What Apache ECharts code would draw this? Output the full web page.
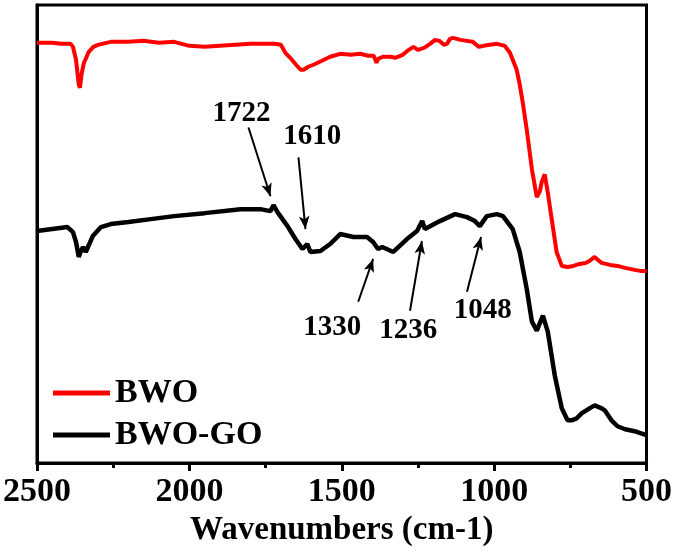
<!DOCTYPE html>
<html>
<head>
<meta charset="utf-8">
<script src="https://cdn.jsdelivr.net/npm/echarts@6/dist/echarts.min.js"></script>
<style>
html,body{margin:0;padding:0;background:#fff;}
#chart{width:675px;height:552px;}
</style>
</head>
<body>
<div id="chart"></div>
<script>
// ---- data (transmittance in arbitrary units) ----
const seriesNames = ['BWO', 'BWO-GO'];
const xTicks = [2500, 2000, 1500, 1000, 500];

const bwoWn = [2500, 2450, 2420, 2390, 2382, 2372, 2363, 2359, 2354, 2346, 2340, 2330, 2315, 2300, 2258, 2200, 2150, 2100, 2050, 2000, 1950, 1900, 1850, 1800, 1760, 1720, 1700, 1685, 1669, 1650, 1635, 1625, 1610, 1593, 1565, 1538, 1505, 1470, 1440, 1413, 1395, 1386, 1380, 1365, 1340, 1325, 1300, 1280, 1265, 1250, 1230, 1210, 1194, 1180, 1165, 1155, 1145, 1135, 1110, 1090, 1070, 1050, 1035, 1014, 990, 965, 948, 926, 916, 906, 893, 876, 860, 850, 844, 834, 824, 811, 795, 778, 759, 740, 720, 700, 687, 670, 660, 647, 620, 595, 570, 539, 520, 500];
const bwoT  = [422, 422, 421, 421, 418, 405, 380, 377, 390, 402, 406, 413, 418, 420, 423, 423, 424, 422, 423, 419, 418, 419, 420, 421, 421, 421, 420, 412, 407, 400, 395, 395, 398, 400, 404, 408, 411, 410, 411, 409, 409, 402, 406, 408, 408, 407, 410, 415, 418, 415, 417, 421, 425, 424, 420, 421, 426, 427, 425, 424, 423, 418, 419, 420, 421, 419, 412, 395, 380, 362, 335, 295, 267, 273, 282, 290, 272, 245, 212, 198, 197, 198, 200, 201, 203, 207, 204, 201, 199, 198, 196, 194, 193, 193];

const goWn = [2500, 2450, 2400, 2382, 2372, 2363, 2356, 2349, 2340, 2317, 2290, 2258, 2200, 2127, 2050, 1950, 1832, 1800, 1767, 1734, 1724, 1711, 1678, 1652, 1629, 1613, 1603, 1570, 1538, 1505, 1462, 1417, 1397, 1381, 1367, 1331, 1286, 1253, 1236, 1227, 1178, 1128, 1089, 1063, 1047, 1024, 991, 971, 939, 916, 893, 876, 860, 840, 824, 801, 778, 759, 746, 729, 713, 687, 670, 647, 637, 615, 595, 570, 539, 520, 500];
const goT  = [233, 235, 237, 232, 222, 207, 213, 217, 212, 228, 237, 240, 242, 245, 248, 251, 255, 255, 255, 253, 259, 252, 238, 225, 215, 220, 212, 213, 220, 230, 227, 227, 222, 215, 217, 212, 225, 233, 243, 235, 243, 250, 247, 243, 238, 248, 250, 248, 235, 212, 175, 142, 133, 148, 132, 88, 55, 43, 43, 45, 50, 55, 58, 55, 53, 43, 37, 34, 32, 30, 28];

// ---- peak annotations ----
const annoLabels = ['1722', '1610', '1330', '1236', '1048'];
const annoTextWn = [1829, 1597, 1531, 1282, 1037];
const annoTextT  = [351, 328, 136, 133, 153];
const arrowFromWn = [1806, 1642, 1446, 1276, 1089];
const arrowFromT  = [337, 307, 162, 153, 172];
const arrowToWn   = [1734, 1619, 1397, 1237, 1043];
const arrowToT    = [268, 235, 205, 223, 227];

const zip = (a, b) => a.map((v, i) => [v, b[i]]);
const FONT = '"Liberation Serif", "Times New Roman", serif';

const chart = echarts.init(document.getElementById('chart'), null, {renderer: 'canvas'});
chart.setOption({
  animation: false,
  backgroundColor: '#fff',
  grid: {left: 36, right: 28, top: 5, bottom: 87, show: true, borderColor: '#000', borderWidth: 3, backgroundColor: 'transparent'},
  legend: {
    data: seriesNames,
    orient: 'vertical',
    left: 48,
    top: 371,
    icon: 'rect',
    itemWidth: 57,
    itemHeight: 5,
    itemGap: 8,
    textStyle: {fontFamily: FONT, fontWeight: 'bold', fontSize: 34, color: '#000', lineHeight: 34}
  },
  xAxis: {
    type: 'value',
    inverse: true,
    min: 500,
    max: 2500,
    interval: 500,
    name: 'Wavenumbers (cm-1)',
    nameLocation: 'middle',
    nameGap: 48,
    nameTextStyle: {fontFamily: FONT, fontWeight: 'bold', fontSize: 33, color: '#000'},
    axisLine: {lineStyle: {color: '#000', width: 3}},
    axisTick: {show: true, length: 8, lineStyle: {color: '#000', width: 3}},
    minorTick: {show: true, splitNumber: 2, length: 5, lineStyle: {color: '#000', width: 3}},
    splitLine: {show: false},
    axisLabel: {
      fontFamily: FONT, fontWeight: 'bold', fontSize: 34, color: '#000', margin: 12,
      formatter: v => (xTicks.indexOf(v) >= 0 ? String(v) : '')
    }
  },
  yAxis: {
    type: 'value',
    min: 0,
    max: 460,
    axisLine: {show: true, lineStyle: {color: '#000', width: 3}},
    axisTick: {show: false},
    axisLabel: {show: false},
    splitLine: {show: false}
  },
  series: [
    {
      name: 'BWO', type: 'line', data: zip(bwoWn, bwoT), showSymbol: false, symbol: 'none',
      lineStyle: {color: '#ff0000', width: 4}, itemStyle: {color: '#ff0000'}
    },
    {
      name: 'BWO-GO', type: 'line', data: zip(goWn, goT), showSymbol: false, symbol: 'none',
      lineStyle: {color: '#000', width: 4.5}, itemStyle: {color: '#000'},
      markLine: {
        silent: true,
        symbol: ['none', 'arrow'],
        symbolSize: [8, 13],
        label: {show: false},
        lineStyle: {color: '#000', width: 2, type: 'solid', opacity: 1},
        data: arrowFromWn.map((w, i) => [
          {coord: [w, arrowFromT[i]]},
          {coord: [arrowToWn[i], arrowToT[i]]}
        ])
      }
    },
    {
      name: 'peaks', type: 'scatter', symbolSize: 1, silent: true,
      itemStyle: {color: 'transparent', opacity: 1},
      data: annoLabels.map((l, i) => [annoTextWn[i], annoTextT[i], l]),
      label: {
        show: true, position: 'inside', formatter: p => p.value[2], opacity: 1,
        fontFamily: FONT, fontWeight: 'bold', fontSize: 29, color: '#000'
      }
    }
  ]
});
</script>
</body>
</html>
